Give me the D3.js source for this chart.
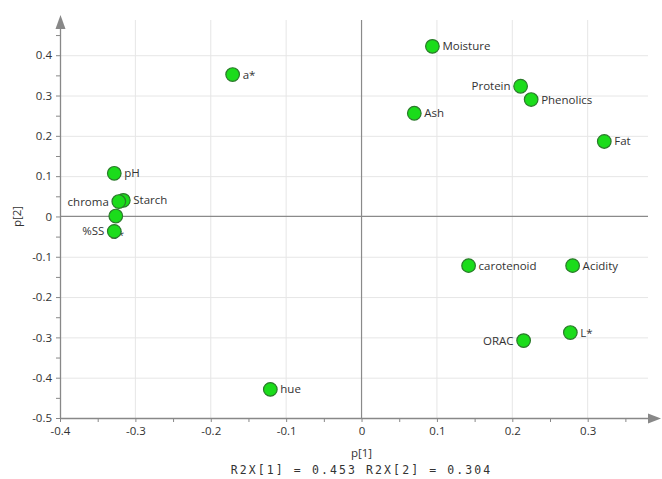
<!DOCTYPE html>
<html><head><meta charset="utf-8">
<script src="https://cdn.jsdelivr.net/npm/d3@7"></script>
<style>body{margin:0;background:#fff}svg{display:block}</style>
</head><body><svg id="c" width="662" height="479"></svg>
<script>
const names = ["Moisture","a*","Protein","Phenolics","Ash","Fat","pH","Starch","chroma","b*","%SS","carotenoid","Acidity","L*","ORAC","hue"];
const p1 = [0.094,-0.171,0.211,0.225,0.070,0.322,-0.328,-0.316,-0.322,-0.326,-0.328,0.142,0.280,0.277,0.215,-0.121];
const p2 = [0.422,0.352,0.323,0.290,0.256,0.186,0.107,0.040,0.037,0.001,-0.037,-0.122,-0.122,-0.288,-0.308,-0.429];
const leftLabels = ["Protein","chroma","%SS","ORAC"];
const hiddenLabels = ["b*"];
const xTicks = [-0.4,-0.3,-0.2,-0.1,0,0.1,0.2,0.3];
const yTicks = [-0.5,-0.4,-0.3,-0.2,-0.1,0,0.1,0.2,0.3,0.4];
const xTitle = "p[1]", yTitle = "p[2]";
const footer = "R2X[1] = 0.453 R2X[2] = 0.304";

const svg = d3.select("#c");
const L=60, R=648, B=418, T=27;
const x = d3.scaleLinear().domain([-0.4,0.38]).range([L,R]);
const y = d3.scaleLinear().domain([-0.5,0.47]).range([B,T]);
const font = "'Open Sans', 'Noto Sans', sans-serif";
const isMajor = (arr,d)=>arr.some(t=>Math.abs(t-d)<1e-9);
const fmt = d=>{const r=Math.round(d*100)/100; return r===0?"0":String(r);};

// grid
svg.append("g").selectAll("line").data(xTicks.filter(d=>d!==-0.4&&d!==0)).join("line")
  .attr("x1",d=>x(d)).attr("x2",d=>x(d)).attr("y1",20).attr("y2",B)
  .attr("stroke","#e6e6e6").attr("stroke-width",1);
svg.append("g").selectAll("line").data(yTicks.filter(d=>d!==-0.5&&d!==0)).join("line")
  .attr("y1",d=>y(d)+0.5).attr("y2",d=>y(d)+0.5).attr("x1",L).attr("x2",R)
  .attr("stroke","#e6e6e6").attr("stroke-width",1);
// zero lines
svg.append("line").attr("x1",x(0)).attr("x2",x(0)).attr("y1",20).attr("y2",B).attr("stroke","#8a8a8a").attr("stroke-width",1.2);
svg.append("line").attr("x1",L).attr("x2",R).attr("y1",y(0)).attr("y2",y(0)).attr("stroke","#8a8a8a").attr("stroke-width",1.2);

// axes
const minorX = d3.range(-0.4,0.3501,0.05);
const minorY = d3.range(-0.5,0.4501,0.05);
const xAxis = d3.axisBottom(x).tickValues(minorX).tickSize(4)
  .tickFormat(d=>isMajor(xTicks,Math.round(d*100)/100)?fmt(d):"");
const gx = svg.append("g").attr("transform",`translate(0,${B})`).call(xAxis);
const yAxis = d3.axisLeft(y).tickValues(minorY).tickSize(4)
  .tickFormat(d=>isMajor(yTicks,Math.round(d*100)/100)?fmt(d):"");
const gy = svg.append("g").attr("transform",`translate(${L},0)`).call(yAxis);
[gx,gy].forEach(g=>{
  g.select(".domain").remove();
  g.selectAll(".tick line").attr("stroke","#888");
  g.selectAll(".tick text").attr("fill","#333").style("font-family",font).style("font-size","11.5px");
});
gx.selectAll(".tick text").attr("dy","0.9em");
gy.selectAll(".tick text").attr("x",-8);
// axis lines with arrows
svg.append("line").attr("x1",L).attr("x2",R).attr("y1",B+0.5).attr("y2",B+0.5).attr("stroke","#888").attr("stroke-width",1.3);
svg.append("line").attr("x1",L+0.5).attr("x2",L+0.5).attr("y1",B).attr("y2",T).attr("stroke","#888").attr("stroke-width",1.3);
svg.append("path").attr("d",`M${R},${B-4.5} L${R+13},${B+0.5} L${R},${B+5.5} Z`).attr("fill","#888");
svg.append("path").attr("d",`M${L-4.5},${T+2} L${L+0.5},${T-12} L${L+5.5},${T+2} Z`).attr("fill","#888");

// titles
svg.append("text").attr("x",x(0)).attr("y",457).attr("text-anchor","middle").attr("fill","#333")
  .style("font-family",font).style("font-size","11.5px").text(xTitle);
svg.append("text").attr("transform",`translate(21,${y(0)}) rotate(-90)`).attr("text-anchor","middle").attr("fill","#333")
  .style("font-family",font).style("font-size","11.5px").text(yTitle);
svg.append("text").attr("x",x(0)).attr("y",474).attr("text-anchor","middle").attr("fill","#333")
  .style("font-family","'DejaVu Sans Mono', 'Liberation Mono', monospace").style("font-size","11.5px")
  .style("letter-spacing","2.1px").text(footer);

// data
const data = names.map((n,i)=>({n, x:p1[i], y:p2[i]}));
// hidden label (drawn under points)
svg.append("g").selectAll("text").data(data.filter(d=>hiddenLabels.includes(d.n))).join("text")
  .attr("x",d=>x(d.x)-5).attr("y",d=>y(d.y)+22.5).attr("fill","#333")
  .style("font-family",font).style("font-size","11.5px").text(d=>d.n);
svg.append("g").selectAll("circle").data(data).join("circle")
  .attr("cx",d=>x(d.x)).attr("cy",d=>y(d.y)).attr("r",6.8)
  .attr("fill","#1bdc1b").attr("stroke","#2b7a2b").attr("stroke-width",1.2);
svg.append("g").selectAll("text").data(data.filter(d=>!hiddenLabels.includes(d.n))).join("text")
  .attr("x",d=>leftLabels.includes(d.n)? x(d.x)-10 : x(d.x)+10)
  .attr("y",d=>y(d.y)+4)
  .attr("text-anchor",d=>leftLabels.includes(d.n)?"end":"start")
  .attr("fill","#333").style("font-family",font).style("font-size","11.5px").text(d=>d.n);
</script></body></html>
